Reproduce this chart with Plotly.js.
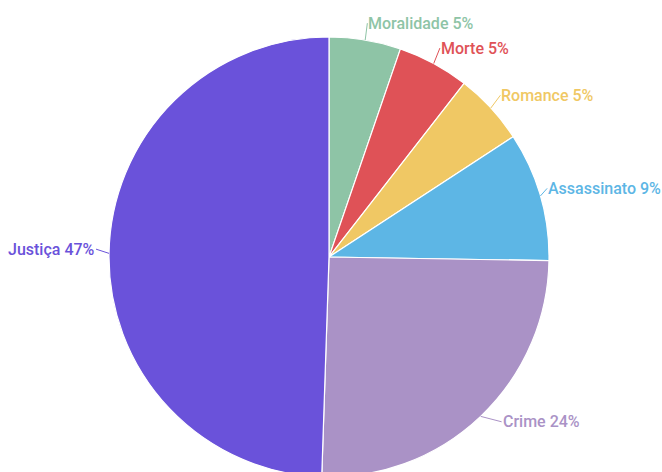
<!DOCTYPE html>
<html>
<head>
<meta charset="utf-8">
<script src="https://cdn.plot.ly/plotly-3.0.1.min.js"></script>
<style>
html,body{margin:0;padding:0;overflow:hidden;background:#fff;}
#chart{width:662px;height:480px;}
</style>
</head>
<body>
<div id="chart"></div>
<script>
var categories = ["Moralidade", "Morte", "Romance", "Assassinato", "Crime", "Justiça"];
var values = [5, 5, 5, 9, 24, 47];
var colors = ["#8ec4a6", "#df5257", "#f0c864", "#5db6e5", "#aa92c6", "#6a52da"];

var W = 662, H = 480, MT = 37, MB = 3;
var plotH = H - MT - MB;
var domX = [0, 658 / W];
var FONT_SIZE = 16, FONT_WEIGHT = 500, FONT_FAMILY = "Roboto, sans-serif";

var trace = {
  type: "pie",
  labels: categories,
  values: values,
  sort: false,
  direction: "clockwise",
  rotation: 0,
  marker: {colors: colors, line: {color: "#ffffff", width: 1.2}},
  textinfo: "none",
  hoverinfo: "none",
  showlegend: false,
  domain: {x: domX, y: [0, 1]}
};

// text measuring, so labels can be kept inside the page
var ctx = document.createElement("canvas").getContext("2d");
ctx.font = FONT_WEIGHT + " " + FONT_SIZE + "px Roboto";
function textWidth(s) { return ctx.measureText(s).width; }

// Outside labels with short leader lines, placed from each slice's mid-angle
var total = values.reduce(function (a, b) { return a + b; }, 0);
var cxPx = (domX[0] + domX[1]) / 2 * W;
var cyPx = MT + plotH / 2;
var R = Math.min((domX[1] - domX[0]) * W, plotH) / 2;
var annotations = [];
var acc = 0;
for (var i = 0; i < values.length; i++) {
  var mid = (acc + values[i] / 2) / total * 2 * Math.PI;
  acc += values[i];
  var sx = Math.sin(mid), sy = -Math.cos(mid);
  var ex = cxPx + R * sx, ey = cyPx + R * sy;
  var off = 13;
  var ax = off * sx, ay = off * sy - 4;
  if (sx > 0 && sy > 0) ax += 12; // lower-right labels sit a bit further out
  var txt = categories[i] + " " + values[i] + "%";
  var right = sx >= 0;
  if (right) {
    var w = textWidth(txt);
    var over = ex + ax + w - (W - 2);
    if (over > 0) ax -= over;
  }
  annotations.push({
    xref: "paper", yref: "paper",
    x: ex / W, y: 1 - (ey - MT) / plotH,
    ax: ax, ay: ay,
    showarrow: true, arrowhead: 0, arrowwidth: 1, arrowcolor: colors[i],
    standoff: 0, startstandoff: 0,
    xanchor: right ? "left" : "right", yanchor: "middle",
    text: txt,
    font: {family: FONT_FAMILY, size: FONT_SIZE, weight: FONT_WEIGHT, color: colors[i]},
    borderpad: 0
  });
}

var layout = {
  width: W,
  height: H,
  margin: {l: 0, r: 0, t: MT, b: MB},
  paper_bgcolor: "#ffffff",
  showlegend: false,
  annotations: annotations
};

Plotly.newPlot("chart", [trace], layout, {displayModeBar: false, staticPlot: true});
</script>
</body>
</html>
